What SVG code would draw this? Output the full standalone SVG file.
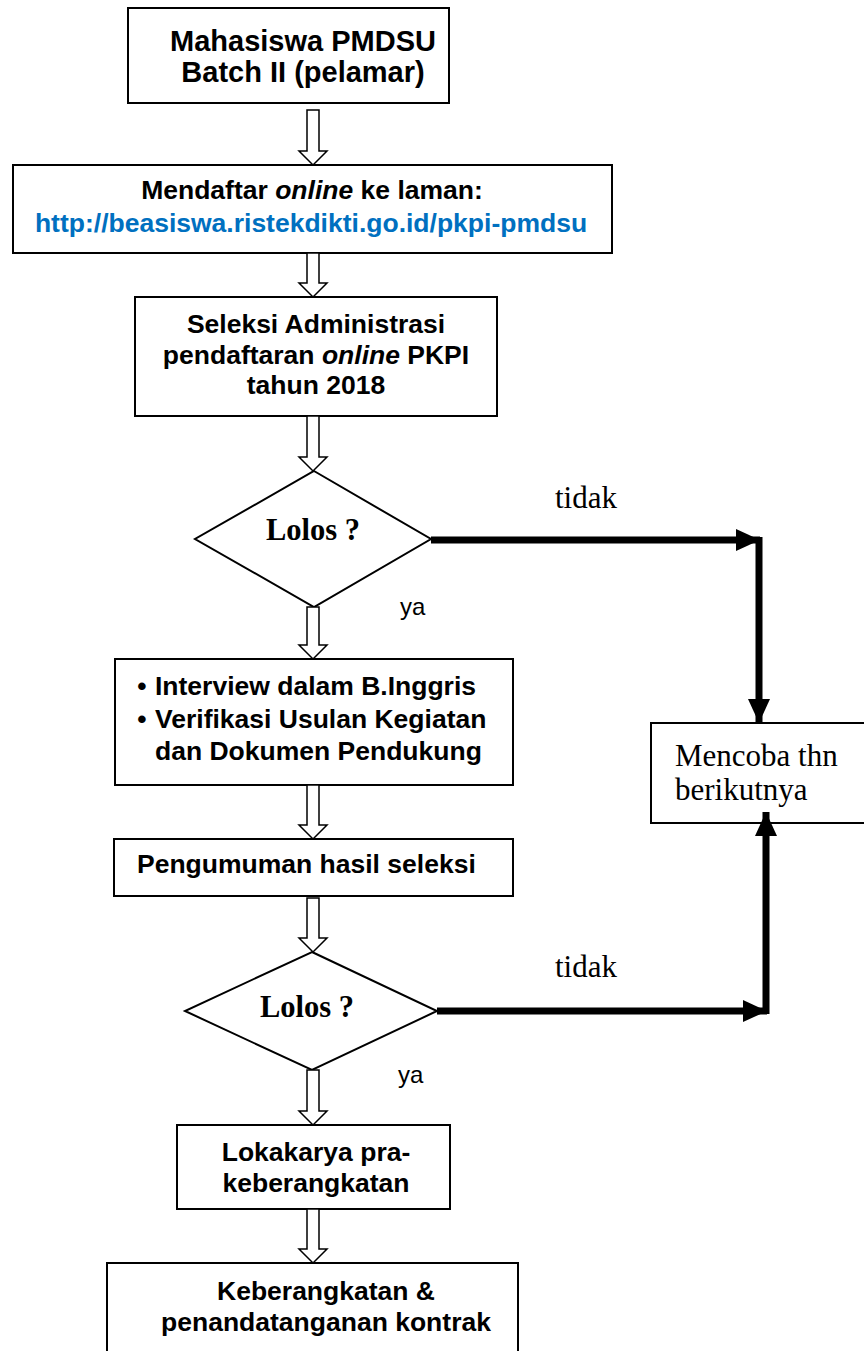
<svg xmlns="http://www.w3.org/2000/svg" width="864" height="1351" viewBox="0 0 864 1351">
<style>
.box{fill:#fff;stroke:#000;stroke-width:2}
.dia{fill:#fff;stroke:#000;stroke-width:2}
.ha{fill:#fff;stroke:#000;stroke-width:1.5}
.thick{fill:none;stroke:#000;stroke-width:7;marker-end:url(#ah)}
.sb{font-family:"Liberation Sans",Arial,sans-serif;font-weight:bold;font-size:26.5px;fill:#000}
.big{font-size:29px}
.mid{text-anchor:middle}
.ser{font-family:"Liberation Serif","Times New Roman",serif;font-size:31px;fill:#000}
.serb{font-family:"Liberation Serif","Times New Roman",serif;font-size:30.5px;font-weight:bold;fill:#000}
.ya{font-family:"Liberation Sans",Arial,sans-serif;font-size:24px;fill:#000}
.url{fill:#0070C0}
</style>
<defs>
<marker id="ah" markerUnits="userSpaceOnUse" markerWidth="24" markerHeight="22" viewBox="0 0 24 22" refX="24" refY="11" orient="auto">
<path d="M0,0 L24,11 L0,22 Z" fill="#000"/>
</marker>
</defs>

<g id="n1">
<rect class="box" x="128" y="8" width="321" height="95"/>
<text class="sb big mid" x="303" y="51">Mahasiswa PMDSU</text>
<text class="sb big mid" x="303" y="82">Batch II (pelamar)</text>
</g>

<g id="n2">
<rect class="box" x="13" y="165" width="599" height="88"/>
<text class="sb mid" x="312" y="199">Mendaftar <tspan font-style="italic">online</tspan> ke laman:</text>
<text class="sb mid url" x="311" y="232">http://beasiswa.ristekdikti.go.id/pkpi-pmdsu</text>
</g>

<g id="n3">
<rect class="box" x="135" y="297" width="362" height="119"/>
<text class="sb mid" x="316" y="333">Seleksi Administrasi</text>
<text class="sb mid" x="316" y="364">pendaftaran <tspan font-style="italic">online</tspan> PKPI</text>
<text class="sb mid" x="316" y="394">tahun 2018</text>
</g>

<g id="d1">
<polygon class="dia" points="314,471 431,539 314,607 195,539"/>
<text class="serb" x="266" y="540">Lolos ?</text>
</g>

<g id="n4">
<rect class="box" x="115" y="659" width="398" height="126"/>
<text class="sb mid" x="142" y="695">•</text>
<text class="sb" x="155" y="695">Interview dalam B.Inggris</text>
<text class="sb mid" x="142" y="728">•</text>
<text class="sb" x="155" y="728">Verifikasi Usulan Kegiatan</text>
<text class="sb" x="155" y="760">dan Dokumen Pendukung</text>
</g>

<g id="n5">
<rect class="box" x="114" y="839" width="399" height="57"/>
<text class="sb" x="137" y="873">Pengumuman hasil seleksi</text>
</g>

<g id="d2">
<polygon class="dia" points="312,952 437,1011 312,1070 185,1011"/>
<text class="serb" x="260" y="1017">Lolos ?</text>
</g>

<g id="n6">
<rect class="box" x="177" y="1125" width="273" height="84"/>
<text class="sb mid" x="316" y="1161">Lokakarya pra-</text>
<text class="sb mid" x="316" y="1192">keberangkatan</text>
</g>

<g id="n7">
<rect class="box" x="107" y="1263" width="411" height="110"/>
<text class="sb mid" x="326" y="1300">Keberangkatan &amp;</text>
<text class="sb mid" x="326" y="1331">penandatanganan kontrak</text>
</g>

<g id="n8">
<rect class="box" x="651" y="723" width="230" height="100"/>
<text class="ser" x="675" y="766">Mencoba thn</text>
<text class="ser" x="675" y="800">berikutnya</text>
</g>

<g id="connectors">
<path class="ha" d="M307,110 V151 H299 L313,165 L327,151 H319 V110 Z"/>
<path class="ha" d="M307,253 V283 H299 L313,297 L327,283 H319 V253 Z"/>
<path class="ha" d="M307,416 V457 H299 L313,471 L327,457 H319 V416 Z"/>
<path class="ha" d="M307,607 V645 H299 L313,659 L327,645 H319 V607 Z"/>
<path class="ha" d="M307,785 V825 H299 L313,839 L327,825 H319 V785 Z"/>
<path class="ha" d="M307,898 V938 H299 L313,952 L327,938 H319 V898 Z"/>
<path class="ha" d="M307,1070 V1111 H299 L313,1125 L327,1111 H319 V1070 Z"/>
<path class="ha" d="M307,1209 V1249 H299 L313,1263 L327,1249 H319 V1209 Z"/>
<path class="thick" d="M431,540 H760"/>
<path class="thick" d="M759,537 V723"/>
<path class="thick" d="M437,1011 H767"/>
<path class="thick" d="M766,1014 V812"/>
<text class="ser" x="555" y="508">tidak</text>
<text class="ya" x="400" y="615">ya</text>
<text class="ser" x="555" y="977">tidak</text>
<text class="ya" x="398" y="1083">ya</text>
</g>
</svg>
